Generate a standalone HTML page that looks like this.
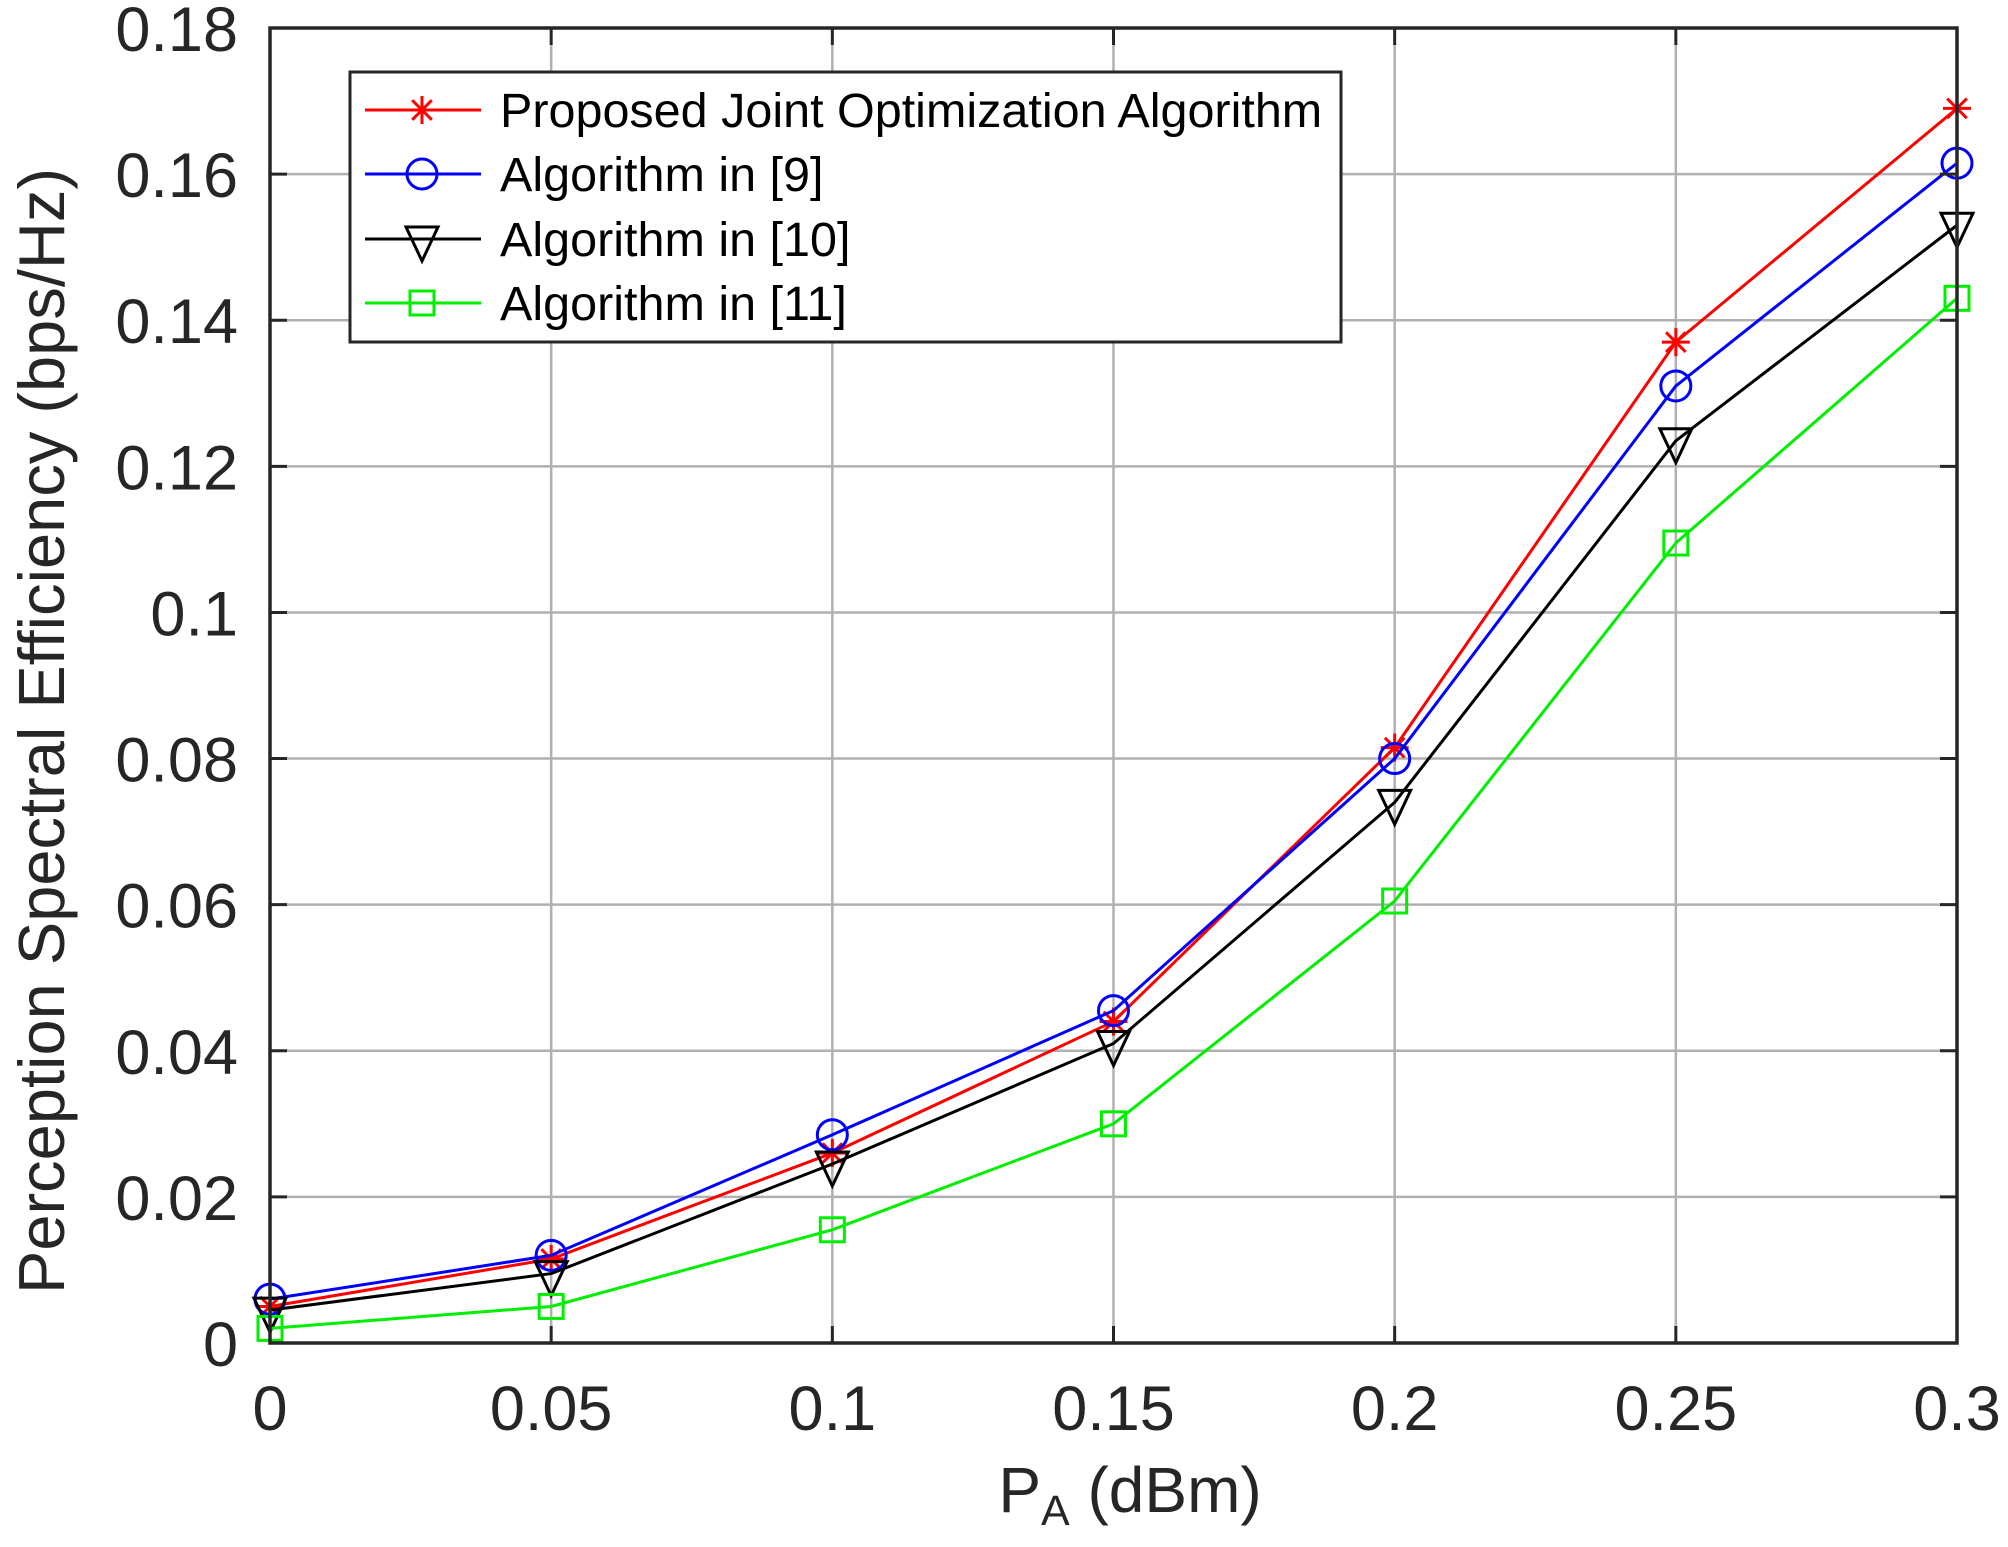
<!DOCTYPE html>
<html><head><meta charset="utf-8"><style>
html,body{margin:0;padding:0;background:#fff;}
svg{display:block;font-family:"Liberation Sans",Arial,sans-serif;}
</style></head><body>
<svg id="chart" width="2008" height="1547" viewBox="0 0 2008 1547" xmlns="http://www.w3.org/2000/svg">
<rect width="2008" height="1547" fill="#fff"/>
<g id="grid"></g>
<g id="series"></g>
<rect x="270" y="28" width="1687" height="1315" fill="none" stroke="#262626" stroke-width="3.5"/>
<g id="ticks"></g>
<text transform="translate(64,731) rotate(-90)" text-anchor="middle" font-size="65" fill="#262626">Perception Spectral Efficiency (bps/Hz)</text>
<text x="1130" y="1512" text-anchor="middle" font-size="64" fill="#262626">P<tspan font-size="43" dy="13">A</tspan><tspan dy="-13"> (dBm)</tspan></text>
<g id="legend"></g>
</svg>
<script>
const xValues=[0,0.05,0.1,0.15,0.2,0.25,0.3];
const xTicks=[0,0.05,0.1,0.15,0.2,0.25,0.3];
const xTickLabels=["0","0.05","0.1","0.15","0.2","0.25","0.3"];
const yTicks=[0,0.02,0.04,0.06,0.08,0.1,0.12,0.14,0.16,0.18];
const yTickLabels=["0","0.02","0.04","0.06","0.08","0.1","0.12","0.14","0.16","0.18"];
const proposed=[0.005,0.0115,0.026,0.044,0.0815,0.137,0.169];
const alg9=[0.006,0.012,0.0285,0.0455,0.080,0.131,0.1615];
const alg10=[0.0045,0.0095,0.0245,0.041,0.074,0.1235,0.153];
const alg11=[0.002,0.005,0.0155,0.030,0.0605,0.1095,0.143];
const seriesNames=["Proposed Joint Optimization Algorithm","Algorithm in [9]","Algorithm in [10]","Algorithm in [11]"];

const NS="http://www.w3.org/2000/svg";
const L=270,R=1957,T=28,B=1343;
const xScale=v=>L+(v-0)/(0.3-0)*(R-L);
const yScale=v=>B-(v-0)/(0.18-0)*(B-T);
function mk(tag,attrs,parent){const e=document.createElementNS(NS,tag);for(const k in attrs)e.setAttribute(k,attrs[k]);parent.appendChild(e);return e;}
const grid=document.getElementById('grid'),ticks=document.getElementById('ticks'),ser=document.getElementById('series'),leg=document.getElementById('legend');
xTicks.forEach((v,i)=>{
  const x=xScale(v);
  const g=mk('line',{x1:x,x2:x,y1:T,y2:B,stroke:'#b0b0b0','stroke-width':2.5},grid);
  
  
  const t=mk('line',{x1:x,x2:x,y1:B,y2:B-17,stroke:'#262626','stroke-width':3},ticks);
  
  
  const tt=mk('line',{x1:x,x2:x,y1:T,y2:T+17,stroke:'#262626','stroke-width':3},ticks);
  
  
  const lb=mk('text',{x:x,y:1430,'text-anchor':'middle','font-size':63,fill:'#262626'},ticks);
  lb.textContent=xTickLabels[i];
  
  
});
yTicks.forEach((v,i)=>{
  const y=yScale(v);
  const g=mk('line',{x1:L,x2:R,y1:y,y2:y,stroke:'#b0b0b0','stroke-width':2.5},grid);
  
  
  const t=mk('line',{x1:L,x2:L+17,y1:y,y2:y,stroke:'#262626','stroke-width':3},ticks);
  
  
  const tr=mk('line',{x1:R,x2:R-17,y1:y,y2:y,stroke:'#262626','stroke-width':3},ticks);
  
  
  const lb=mk('text',{x:238,y:y+23,'text-anchor':'end','font-size':63,fill:'#262626'},ticks);
  lb.textContent=yTickLabels[i];
  
  
});
function marker(type,x,y,color,parent){
  const g=mk('g',{stroke:color,'stroke-width':3,fill:'none'},parent);
  if(type==='star'){
    const r=14;
    mk('line',{x1:x-r,x2:x+r,y1:y,y2:y},g);mk('line',{x1:x,x2:x,y1:y-r,y2:y+r},g);
    mk('line',{x1:x-r*0.7,x2:x+r*0.7,y1:y-r*0.7,y2:y+r*0.7},g);mk('line',{x1:x-r*0.7,x2:x+r*0.7,y1:y+r*0.7,y2:y-r*0.7},g);
  }else if(type==='circle'){
    mk('circle',{cx:x,cy:y,r:15},g);
  }else if(type==='tri'){
    mk('polygon',{points:`${x-16},${y-12} ${x+16},${y-12} ${x},${y+22}`},g);
  }else{
    mk('rect',{x:x-12,y:y-12,width:24,height:24},g);
  }
  return g;
}
const defs=[[proposed,'#ff0000','star','series-proposed'],[alg9,'#0000ff','circle','series-alg9'],[alg10,'#000000','tri','series-alg10'],[alg11,'#00ee00','square','series-alg11']];
defs.forEach(([data,color,m,name])=>{
  const g=mk('g',{},ser);
  
  
  const pts=data.map((v,i)=>xScale(xValues[i])+','+yScale(v)).join(' ');
  mk('polyline',{points:pts,fill:'none',stroke:color,'stroke-width':3},g);
  data.forEach((v,i)=>{
    const mm=marker(m,xScale(xValues[i]),yScale(v),color,g);
    
    
  });
});
const box=mk('rect',{x:350,y:72,width:991,height:270,fill:'#fff',stroke:'#262626','stroke-width':3},leg);


const rowY=[110,174,239,303];
defs.forEach(([data,color,m,name],i)=>{
  const g=mk('g',{},leg);
  
  
  const y=rowY[i];
  mk('line',{x1:365,x2:481,y1:y,y2:y,stroke:color,'stroke-width':3},g);
  marker(m,422,y,color,g);
  const t=mk('text',{x:500,y:y+17,'font-size':48.5,fill:'#000'},g);
  t.textContent=seriesNames[i];
});
</script>
</body></html>
